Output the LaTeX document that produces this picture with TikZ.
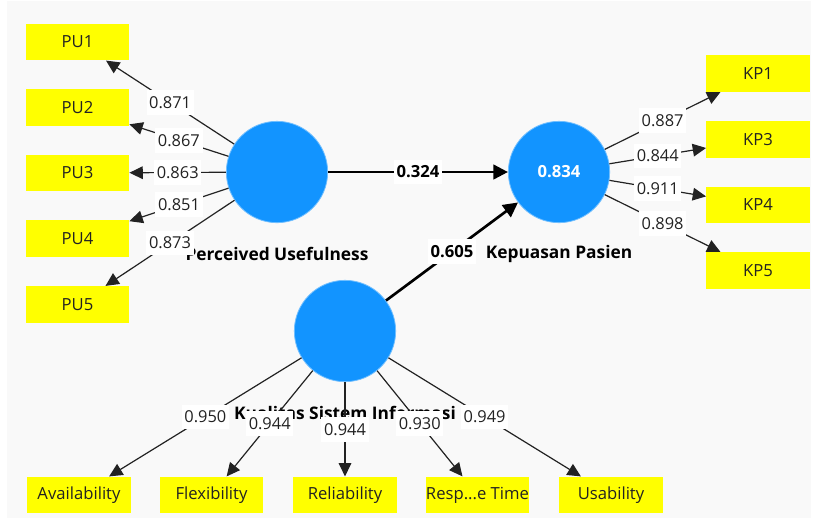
\documentclass[tikz,border=0pt]{standalone}
\usepackage{fontspec}
\setmainfont{Open Sans}
\usetikzlibrary{arrows.meta}

\definecolor{fondgris}{HTML}{F9F9F9}
\definecolor{bleuvar}{HTML}{1294FF}
\definecolor{jauneind}{HTML}{FFFF00}
\definecolor{trait}{HTML}{222222}

\begin{document}
\begin{tikzpicture}[x=0.75pt, y=-0.75pt]
			\tikzset{latente/.style={circle, fill=bleuvar, draw=bleuvar!60!white, line width=0.6pt, minimum size=76pt, inner sep=0pt, text=white, font=\fontsize{12.5}{14}\selectfont\bfseries},
				indicateur/.style={rectangle, fill=jauneind, minimum width=77.5pt, minimum height=27.5pt, inner sep=0pt, text=trait, font=\fontsize{12.5}{14}\selectfont},
				nom/.style={text=black, font=\fontsize{13}{15}\selectfont\bfseries},
				poids/.style={fill=white, inner xsep=2pt, inner ysep=0pt, minimum height=18.5pt, text=trait, font=\fontsize{12.3}{14}\selectfont},
				fleche/.style={>={Triangle[length=10pt, width=9.5pt]}, ->, draw=trait, line width=0.9pt},
				fleche grasse/.style={>={Triangle[length=11pt, width=11pt]}, ->, draw=black, line width=2pt}};

			\useasboundingbox (0,0) rectangle (813,526);
			\fill[white] (0,0) rectangle (813,526);
			\fill[fondgris] (7,1) rectangle (811,518);

			\node[indicateur] (pu1) at (  77.5,  42) {PU1};
			\node[indicateur] (pu2) at (  77.5, 107.5) {PU2};
			\node[indicateur] (pu3) at (  77.5, 173) {PU3};
			\node[indicateur] (pu4) at (  77.5, 238.5) {PU4};
			\node[indicateur] (pu5) at (  77.5, 304.5) {PU5};

			\node[indicateur] (kp1) at ( 758,  73.5) {KP1};
			\node[indicateur] (kp3) at ( 758, 139.5) {KP3};
			\node[indicateur] (kp4) at ( 758, 205) {KP4};
			\node[indicateur] (kp5) at ( 758, 270.5) {KP5};

			\node[indicateur] (avai) at (  79,  495) {Availability};
			\node[indicateur] (flex) at ( 211.5, 495) {Flexibility};
			\node[indicateur] (reli) at ( 345,  495) {Reliability};
			\node[indicateur] (resp) at ( 477.5, 495) {Resp...e Time};
			\node[indicateur] (usab) at ( 611,  495) {Usability};

			\node[latente] (pu)  at ( 277,  172) {};
			\node[latente] (kp)  at ( 559,  172) {0.834};
			\node[latente] (ksi) at ( 345,  331) {};

			\node[nom] (npu)  at ( 277,  254) {Perceived Usefulness};
			\node[nom] (nkp)  at ( 559,  254) {Kepuasan Pasien};
			\node[nom] (nksi) at ( 345,  413) {Kualitas Sistem Informasi};

			\draw[fleche] (pu) to node[poids] {0.871} (pu1);
			\draw[fleche] (pu) to node[poids] {0.867} (pu2);
			\draw[fleche] (pu) to node[poids] {0.863} (pu3);
			\draw[fleche] (pu) to node[poids] {0.851} (pu4);
			\draw[fleche] (pu) to node[poids] {0.873} (pu5);

			\draw[fleche] (kp) to node[poids] {0.887} (kp1);
			\draw[fleche] (kp) to node[poids] {0.844} (kp3);
			\draw[fleche] (kp) to node[poids] {0.911} (kp4);
			\draw[fleche] (kp) to node[poids] {0.898} (kp5);

			\draw[fleche] (ksi) to node[poids] {0.950} (avai);
			\draw[fleche] (ksi) to node[poids] {0.944} (flex);
			\draw[fleche] (ksi) to node[poids] {0.944} (reli);
			\draw[fleche] (ksi) to node[poids] {0.930} (resp);
			\draw[fleche] (ksi) to node[poids] {0.949} (usab);

			\draw[fleche grasse] (pu) to node[poids, font=\fontsize{12.5}{14}\selectfont\bfseries, text=black] {0.324} (kp);
			\draw[fleche grasse] (ksi) to node[poids, font=\fontsize{12.5}{14}\selectfont\bfseries, text=black] {0.605} (kp);

		\end{tikzpicture}
\end{document}
